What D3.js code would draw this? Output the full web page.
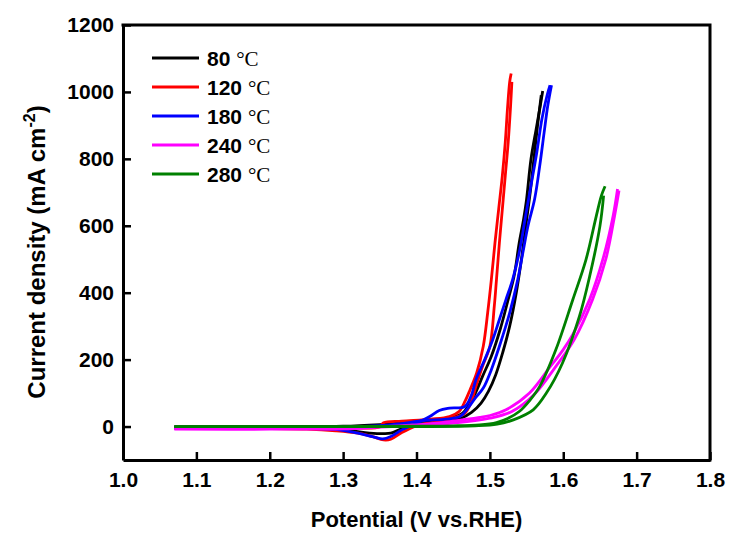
<!DOCTYPE html>
<html>
<head>
<meta charset="utf-8">
<script src="https://cdn.jsdelivr.net/npm/d3@7"></script>
<style>
  body { margin: 0; background: #fff; }
  svg { display: block; }
</style>
</head>
<body>
<svg id="chart" width="731" height="533"></svg>
<script>
// temperatures shown in the legend
const temps = ['80', '120', '180', '240', '280']
const colors = ['#000000', '#ff0000', '#0000ff', '#ff00ff', '#008000']

// tick labels
const xTicks = [1.0, 1.1, 1.2, 1.3, 1.4, 1.5, 1.6, 1.7, 1.8]
const yTicks = [0, 200, 400, 600, 800, 1000, 1200]

// [potential V, current density mA cm-2], forward and return sweep
const up80 = [[1.07, -1], [1.20, 0], [1.30, 1], [1.35, 6], [1.40, 14], [1.43, 20], [1.45, 28], [1.463, 40], [1.478, 90], [1.490, 150], [1.502, 210], [1.514, 290], [1.525, 380], [1.533, 450], [1.540, 549], [1.546, 620], [1.550, 679], [1.556, 799], [1.563, 888], [1.568, 950], [1.572, 1003]]
const down80 = [[1.07, -4], [1.15, -4], [1.25, -6], [1.30, -10], [1.33, -18], [1.35, -21], [1.365, -20], [1.38, -6], [1.40, 5], [1.44, 14], [1.46, 24], [1.475, 42], [1.488, 70], [1.498, 105], [1.508, 155], [1.518, 225], [1.527, 300], [1.536, 400], [1.543, 500], [1.549, 600], [1.555, 700], [1.560, 800], [1.565, 900], [1.570, 990]]

const up120 = [[1.07, -2], [1.20, -2], [1.30, -3], [1.35, -1], [1.355, 11], [1.38, 16], [1.42, 22], [1.445, 30], [1.458, 45], [1.466, 75], [1.473, 110], [1.482, 160], [1.491, 240], [1.497, 340], [1.502, 439], [1.507, 550], [1.512, 650], [1.517, 750], [1.521, 850], [1.524, 950], [1.527, 1030], [1.529, 1055]]
const down120 = [[1.07, -5], [1.15, -5], [1.25, -8], [1.29, -13], [1.32, -20], [1.34, -30], [1.355, -40], [1.365, -38], [1.38, -18], [1.40, 2], [1.42, 12], [1.45, 25], [1.466, 40], [1.474, 70], [1.481, 120], [1.490, 180], [1.500, 240], [1.506, 359], [1.509, 439], [1.513, 550], [1.517, 650], [1.521, 750], [1.525, 850], [1.528, 950], [1.530, 1030]]

const up180 = [[1.07, -2], [1.20, -2], [1.30, -1], [1.36, 4], [1.38, 9], [1.41, 18], [1.44, 22], [1.459, 30], [1.47, 55], [1.480, 85], [1.491, 115], [1.502, 170], [1.513, 240], [1.527, 340], [1.538, 439], [1.545, 520], [1.552, 600], [1.561, 680], [1.568, 780], [1.574, 880], [1.579, 960], [1.584, 1020]]
const down180 = [[1.07, -4], [1.15, -4], [1.25, -6], [1.295, -10], [1.32, -20], [1.34, -30], [1.354, -37], [1.365, -30], [1.38, -10], [1.40, 10], [1.418, 30], [1.431, 48], [1.445, 55], [1.466, 60], [1.475, 95], [1.481, 140], [1.493, 200], [1.504, 260], [1.513, 320], [1.522, 380], [1.531, 439], [1.540, 520], [1.548, 620], [1.556, 720], [1.564, 820], [1.571, 920], [1.578, 990], [1.582, 1020]]

const up240 = [[1.07, -6], [1.20, -6], [1.30, -5], [1.35, 0], [1.40, 5], [1.445, 15], [1.486, 27], [1.50, 33], [1.522, 50], [1.554, 100], [1.581, 175], [1.600, 230], [1.613, 275], [1.636, 380], [1.654, 500], [1.668, 630], [1.674, 710]]
const down240 = [[1.07, -8], [1.20, -8], [1.30, -7], [1.35, -2], [1.40, 3], [1.45, 10], [1.50, 25], [1.53, 45], [1.56, 95], [1.590, 180], [1.615, 260], [1.640, 380], [1.658, 500], [1.670, 630], [1.676, 705]]

const up280 = [[1.07, 0], [1.20, 0], [1.30, 0], [1.40, 1], [1.45, 2], [1.486, 5], [1.509, 12], [1.525, 25], [1.540, 45], [1.555, 80], [1.568, 120], [1.590, 230], [1.613, 379], [1.631, 499], [1.645, 629], [1.652, 690], [1.657, 718]]
const down280 = [[1.07, 0], [1.20, 0], [1.30, 0], [1.40, 0], [1.48, 2], [1.51, 7], [1.532, 20], [1.559, 50], [1.577, 100], [1.599, 190], [1.622, 329], [1.636, 449], [1.650, 599], [1.655, 690]]

const sweeps = [[up80, down80], [up120, down120], [up180, down180], [up240, down240], [up280, down280]]

/* ---------- layout ---------- */
const plotLeft = 123
const plotRight = 710
const plotTop = 25
const plotBottom = 460
const boldFont = '"Liberation Sans", Arial, sans-serif'

const svg = d3.select('#chart')

const x = d3.scaleLinear().domain([1.0, 1.8]).range([plotLeft, plotRight])
const y = d3.scaleLinear().domain([-100, 1200]).range([plotBottom, plotTop])

/* ---------- curves ---------- */
const line = d3.line()
  .x(d => x(d[0]))
  .y(d => y(d[1]))
  .curve(d3.curveCatmullRom.alpha(0.5))

sweeps.forEach((pair, i) => {
  pair.forEach(trace => {
    svg.append('path')
      .datum(trace)
      .attr('fill', 'none')
      .attr('stroke', colors[i])
      .attr('stroke-width', 2.8)
      .attr('stroke-linejoin', 'round')
      .attr('d', line)
  })
})

/* ---------- axes ---------- */
const xAxis = svg.append('g')
  .attr('transform', `translate(0,${plotBottom})`)
  .call(d3.axisBottom(x).tickValues(xTicks).tickFormat(d3.format('.1f'))
    .tickSizeInner(-8).tickSizeOuter(0).tickPadding(12))

const yAxis = svg.append('g')
  .attr('transform', `translate(${plotLeft},0)`)
  .call(d3.axisLeft(y).tickValues(yTicks).tickFormat(d3.format('d'))
    .tickSizeInner(-8).tickSizeOuter(0).tickPadding(9))

;[xAxis, yAxis].forEach(ax => {
  ax.select('.domain').attr('stroke', '#000').attr('stroke-width', 3)
  ax.selectAll('.tick line').attr('stroke', '#000').attr('stroke-width', 2.5)
  ax.selectAll('.tick text')
    .attr('fill', '#000')
    .style('font-family', boldFont)
    .style('font-weight', 'bold')
    .style('font-size', '21px')
})

// the other two sides of the frame
svg.append('path')
  .attr('d', `M${plotLeft},${plotTop}H${plotRight}V${plotBottom}`)
  .attr('fill', 'none')
  .attr('stroke', '#000')
  .attr('stroke-width', 3)
  .attr('stroke-linecap', 'square')

/* ---------- titles ---------- */
svg.append('text')
  .attr('x', (plotLeft + plotRight) / 2)
  .attr('y', 527)
  .attr('text-anchor', 'middle')
  .style('font-family', boldFont)
  .style('font-weight', 'bold')
  .style('font-size', '22px')
  .text('Potential (V vs.RHE)')

const yTitle = svg.append('text')
  .attr('transform', 'translate(45,252) rotate(-90)')
  .attr('text-anchor', 'middle')
  .style('font-family', boldFont)
  .style('font-weight', 'bold')
  .style('font-size', '24px')
yTitle.append('tspan').text('Current density (mA cm')
yTitle.append('tspan').attr('dy', -10).style('font-size', '16px').text('-2')
yTitle.append('tspan').attr('dy', 10).text(')')

/* ---------- legend ---------- */
const legend = svg.append('g').attr('transform', 'translate(152,58)')

temps.forEach((t, i) => {
  const row = legend.append('g').attr('transform', `translate(0,${i * 29})`)
  row.append('line')
    .attr('x1', 0)
    .attr('x2', 47)
    .attr('stroke', colors[i])
    .attr('stroke-width', 3)
  const label = row.append('text')
    .attr('x', 55)
    .attr('y', 7.5)
    .style('font-size', '21px')
  label.append('tspan')
    .style('font-family', boldFont)
    .style('font-weight', 'bold')
    .text(t + ' ')
  label.append('tspan')
    .style('font-family', '"Liberation Serif", "Times New Roman", serif')
    .text('°C')
})
</script>
</body>
</html>
